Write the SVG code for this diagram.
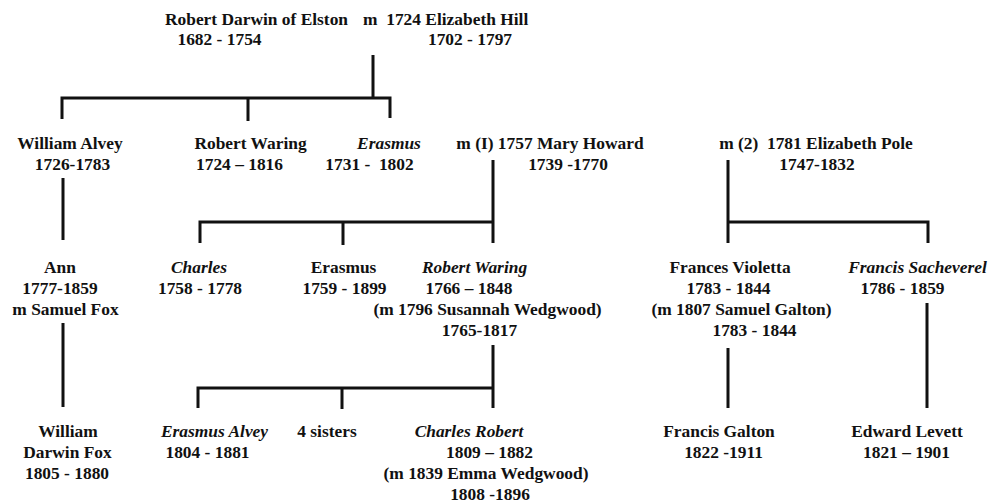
<svg xmlns="http://www.w3.org/2000/svg" width="1002" height="502" viewBox="0 0 1002 502">
<style>
text{font-family:"Liberation Serif","Times New Roman",serif;font-weight:bold;font-size:17.4px;fill:#111;text-anchor:middle;white-space:pre}
.i{font-style:italic}
.s{text-anchor:start}
.c{fill:none;stroke:#111;stroke-width:3;stroke-linecap:butt}
</style>
<rect width="1002" height="502" fill="#fff"/>
<g id="connectors" class="c">
<path d="M373 55V98M62 119V98H390V118M248 98V121"/>
<path d="M493 160V243M200 243V222H493M343 222V245"/>
<path d="M493 345V408M198 408V388H493M342 388V409"/>
<path d="M728 160V243M728 222H928V243"/>
<path d="M63 178V240M63 323V407"/>
<path d="M728 348V408M927 303V408"/>
</g>
<g id="robert-darwin-elston"><text x="256.5" y="25">Robert Darwin of Elston</text><text x="219.5" y="45">1682 - 1754</text></g>
<g id="elizabeth-hill"><text class="s" x="363" y="25">m  1724 Elizabeth Hill</text><text x="470" y="45">1702 - 1797</text></g>
<g id="william-alvey"><text x="70" y="149">William Alvey</text><text x="72.5" y="170">1726-1783</text></g>
<g id="robert-waring-1724"><text x="250.5" y="149">Robert Waring</text><text x="239.5" y="170">1724 – 1816</text></g>
<g id="erasmus-1731"><text class="i" x="389" y="149">Erasmus</text><text x="369.5" y="170">1731 -  1802</text></g>
<g id="mary-howard"><text x="550" y="149">m (I) 1757 Mary Howard</text><text x="568" y="170">1739 -1770</text></g>
<g id="elizabeth-pole"><text x="816" y="149">m (2)  1781 Elizabeth Pole</text><text x="817" y="170">1747-1832</text></g>
<g id="ann"><text x="60" y="273">Ann</text><text x="60" y="294">1777-1859</text><text x="65.5" y="315">m Samuel Fox</text></g>
<g id="charles-1758"><text class="i" x="199" y="273">Charles</text><text x="200" y="294">1758 - 1778</text></g>
<g id="erasmus-1759"><text x="343.5" y="273">Erasmus</text><text x="344.5" y="294">1759 - 1899</text></g>
<g id="robert-waring-1766"><text class="i" x="474.5" y="273">Robert Waring</text><text x="469" y="294">1766 – 1848</text><text x="487.5" y="315">(m 1796 Susannah Wedgwood)</text><text x="479.5" y="336">1765-1817</text></g>
<g id="frances-violetta"><text x="730" y="273">Frances Violetta</text><text x="728.5" y="294">1783 - 1844</text><text x="741.5" y="315">(m 1807 Samuel Galton)</text><text x="754.5" y="336">1783 - 1844</text></g>
<g id="francis-sacheverel"><text class="i" x="917.5" y="273">Francis Sacheverel</text><text x="902.5" y="294">1786 - 1859</text></g>
<g id="william-darwin-fox"><text x="68" y="437">William</text><text x="67.5" y="458">Darwin Fox</text><text x="67" y="479">1805 - 1880</text></g>
<g id="erasmus-alvey"><text class="i" x="214.5" y="437">Erasmus Alvey</text><text x="207.5" y="458">1804 - 1881</text></g>
<g id="four-sisters"><text x="327" y="437">4 sisters</text></g>
<g id="charles-robert"><text class="i" x="469" y="437">Charles Robert</text><text x="489.5" y="458">1809 – 1882</text><text x="486" y="479">(m 1839 Emma Wedgwood)</text><text x="490" y="500">1808 -1896</text></g>
<g id="francis-galton"><text x="719" y="437">Francis Galton</text><text x="723.5" y="458">1822 -1911</text></g>
<g id="edward-levett"><text x="907" y="437">Edward Levett</text><text x="906.5" y="458">1821 – 1901</text></g>
</svg>
